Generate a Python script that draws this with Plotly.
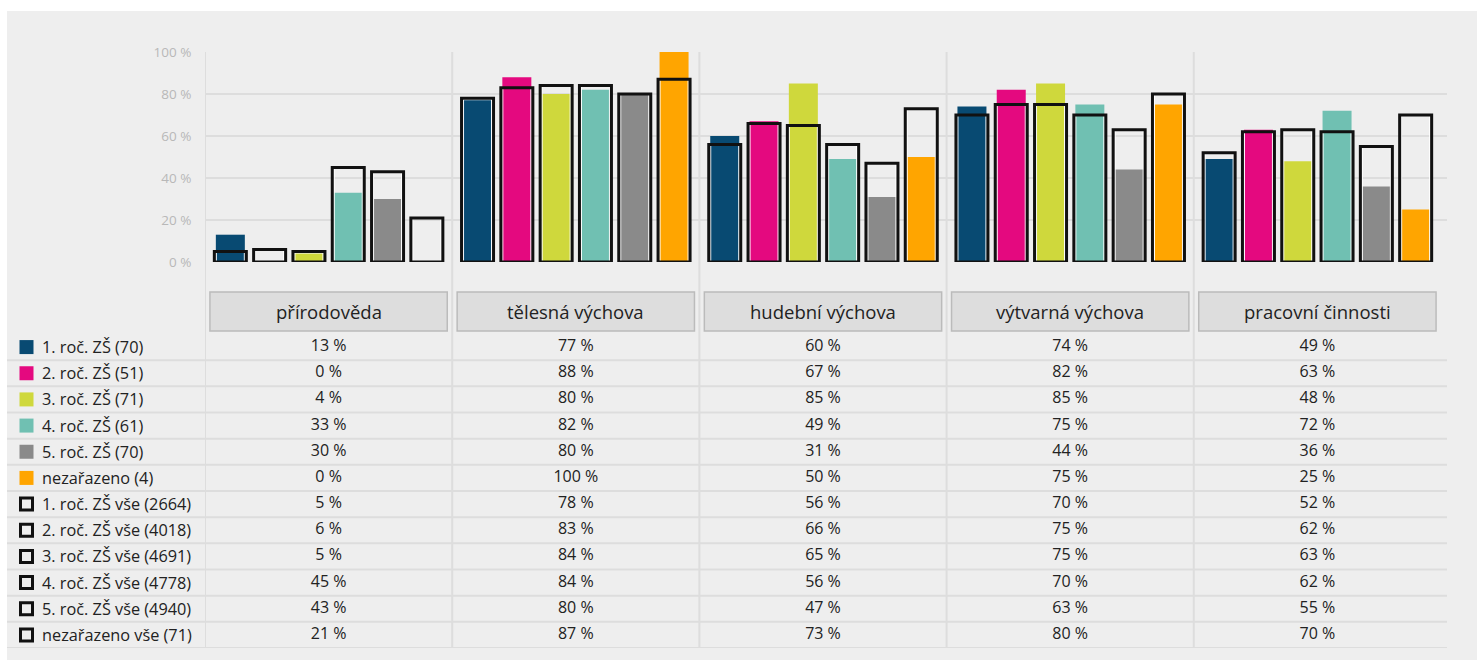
import plotly.graph_objects as go

W, H = 1477, 660

categories = ["přírodověda", "tělesná výchova", "hudební výchova", "výtvarná výchova", "pracovní činnosti"]

group_labels = ["1. roč. ZŠ (70)", "2. roč. ZŠ (51)", "3. roč. ZŠ (71)",
                "4. roč. ZŠ (61)", "5. roč. ZŠ (70)", "nezařazeno (4)"]
all_labels = ["1. roč. ZŠ vše (2664)", "2. roč. ZŠ vše (4018)", "3. roč. ZŠ vše (4691)",
              "4. roč. ZŠ vše (4778)", "5. roč. ZŠ vše (4940)", "nezařazeno vše (71)"]

roc1 = [13, 77, 60, 74, 49]
roc2 = [0, 88, 67, 82, 63]
roc3 = [4, 80, 85, 85, 48]
roc4 = [33, 82, 49, 75, 72]
roc5 = [30, 80, 31, 44, 36]
nezarazeno = [0, 100, 50, 75, 25]

roc1_vse = [5, 78, 56, 70, 52]
roc2_vse = [6, 83, 66, 75, 62]
roc3_vse = [5, 84, 65, 75, 63]
roc4_vse = [45, 84, 56, 70, 62]
roc5_vse = [43, 80, 47, 63, 55]
nezarazeno_vse = [21, 87, 73, 80, 70]

tick_vals = [0, 20, 40, 60, 80, 100]

group_series = [roc1, roc2, roc3, roc4, roc5, nezarazeno]
all_series = [roc1_vse, roc2_vse, roc3_vse, roc4_vse, roc5_vse, nezarazeno_vse]
colors = ["#084a72", "#e4097f", "#cfd83c", "#70c0b2", "#8a8a8a", "#ffa500"]

FONT = "Open Sans"
TEXT = "#222222"
LINE = "#dddddd"
UNIT = 247.2  # px per category (for widths expressed in px)


def py(p):
    return 1 - p / H


fig = go.Figure()

# filled bars
for j, (lab, vals, col) in enumerate(zip(group_labels, group_series, colors)):
    fig.add_trace(go.Bar(x=categories, y=vals, name=lab, marker=dict(color=col, line=dict(width=0)),
                         offsetgroup=str(j), width=29 / UNIT, xaxis="x", yaxis="y", hoverinfo="skip"))
# thin white inner line of outline bars
for j, (lab, vals) in enumerate(zip(all_labels, all_series)):
    fig.add_trace(go.Bar(x=categories, y=vals, name=lab,
                         marker=dict(color="rgba(0,0,0,0)", line=dict(color="#ffffff", width=1)),
                         offsetgroup=str(j), width=28 / UNIT, xaxis="x", yaxis="y", hoverinfo="skip"))
# outline bars
for j, (lab, vals) in enumerate(zip(all_labels, all_series)):
    fig.add_trace(go.Bar(x=categories, y=vals, name=lab,
                         marker=dict(color="rgba(0,0,0,0)", line=dict(color="#111111", width=3)),
                         offsetgroup=str(j), width=32 / UNIT, xaxis="x", yaxis="y", hoverinfo="skip"))

# table values
rows = group_series + all_series
row_labels = group_labels + all_labels
for r, vals in enumerate(rows):
    fig.add_trace(go.Scatter(x=categories, y=[r] * len(categories), mode="text",
                             text=[f"{v} %" for v in vals],
                             textfont=dict(family=FONT, size=16, color=TEXT),
                             xaxis="x2", yaxis="y2", hoverinfo="skip"))

# legend squares
n = len(group_labels)
fig.add_trace(go.Scatter(
    x=[26.5] * n, y=list(range(n)), mode="markers",
    marker=dict(symbol="square", color=colors, size=14, opacity=1, line=dict(width=0)),
    xaxis="x3", yaxis="y2", hoverinfo="skip"))
fig.add_trace(go.Scatter(
    x=[26.5] * n, y=list(range(n, 2 * n)), mode="markers",
    marker=dict(symbol="square-open", color="#111111", size=12, opacity=1,
                line=dict(width=3, color="#111111")),
    xaxis="x3", yaxis="y2", hoverinfo="skip"))

annotations = []
for r, lab in enumerate(row_labels):
    annotations.append(dict(x=40, y=r, xref="x3", yref="y2", text=lab, showarrow=False,
                            xanchor="left", yanchor="middle",
                            font=dict(family=FONT, size=16.3, color=TEXT)))
for c in categories:
    annotations.append(dict(x=c, y=py(311.5), xref="x", yref="paper", text=c, showarrow=False,
                            xanchor="center", yanchor="middle",
                            font=dict(family=FONT, size=18.5, color=TEXT)))

shapes = [dict(type="rect", xref="paper", yref="paper", x0=7 / W, x1=1, y0=0, y1=py(11),
               fillcolor="#eeeeee", line=dict(width=0), layer="below")]
for i in range(len(categories)):
    shapes.append(dict(type="line", xref="x", yref="paper", x0=i - 0.5, x1=i - 0.5,
                       y0=py(648), y1=py(52), line=dict(color=LINE, width=2), layer="below"))
    shapes.append(dict(type="rect", xref="x", yref="paper", x0=i - 0.48, x1=i + 0.48,
                       y0=py(331), y1=py(292), fillcolor="#dddddd",
                       line=dict(color="#bbbbbb", width=1.5), layer="below"))
for r in range(2 * n):
    shapes.append(dict(type="line", xref="paper", yref="y2", x0=7 / W, x1=1447 / W,
                       y0=r + 0.5, y1=r + 0.5, line=dict(color=LINE, width=2), layer="below"))

xr = [-0.5, len(categories) - 0.5 + 6 / UNIT]
fig.update_layout(
    width=W, height=H, margin=dict(l=0, r=0, t=0, b=0, pad=0, autoexpand=False),
    paper_bgcolor="white", plot_bgcolor="rgba(0,0,0,0)",
    barmode="group", bargap=0.046, showlegend=False,
    font=dict(family=FONT, color=TEXT),
    xaxis=dict(domain=[205 / W, 1447 / W], type="category", categoryorder="array",
               categoryarray=categories, range=xr, showticklabels=False, showgrid=False,
               zeroline=False, showline=False, anchor="y", automargin=False),
    yaxis=dict(domain=[py(262), py(52)], range=[0, 100], tickvals=tick_vals,
               ticktext=[f"{v} %" for v in tick_vals], showgrid=True, gridcolor=LINE, gridwidth=2,
               zeroline=False, showline=False, ticks="outside", ticklen=10,
               tickcolor="rgba(0,0,0,0)", tickfont=dict(family=FONT, size=13.5, color="#b8b8b8"),
               anchor="x", automargin=False),
    xaxis2=dict(domain=[205 / W, 1447 / W], type="category", categoryorder="array",
                categoryarray=categories, range=xr, visible=False, anchor="y2", matches="x",
                automargin=False),
    yaxis2=dict(domain=[py(648), py(334)], range=[2 * n - 0.5, -0.5], visible=False, anchor="x2",
                automargin=False),
    xaxis3=dict(domain=[0, 205 / W], range=[0, 205], visible=False, anchor="y2", automargin=False),
    shapes=shapes, annotations=annotations,
)

fig.write_html("out.html", config={"displayModeBar": False},
               post_script="document.body.style.margin='0';")
